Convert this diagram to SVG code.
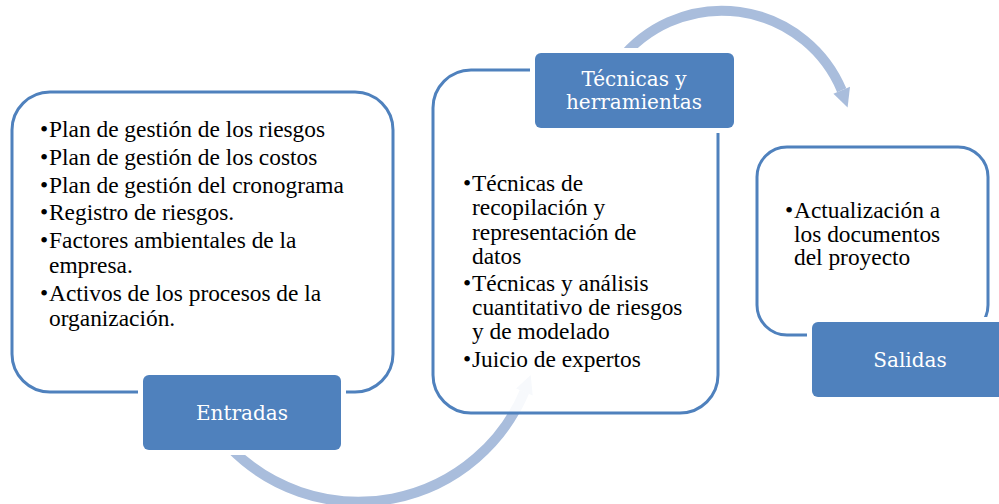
<svg xmlns="http://www.w3.org/2000/svg" width="999" height="504" viewBox="0 0 999 504">
<rect width="999" height="504" fill="#fff"/>
<g id="connectors" fill="#A9BDDC">
<path fill="none" stroke="#A9BDDC" stroke-width="10" d="M230.6,448.3 A180,180 0 0 0 524.4,391.9"/>
<polygon points="530.7,375.1 532.7,395.5 516.1,388.4"/>
<path fill="none" stroke="#A9BDDC" stroke-width="10" d="M620,60 A130,130 0 0 1 841.7,90.2"/>
<polygon points="847.6,107.4 850.0,86.7 833.4,93.7"/>
</g>
<g id="entradas">
<rect x="12" y="92" width="381" height="300" rx="38" fill="#fff" fill-opacity="0.9" stroke="#4F81BD" stroke-width="3"/>
<rect x="138" y="370" width="208" height="85" rx="10" fill="#fff"/>
<rect x="143" y="375" width="198" height="75" rx="6" fill="#4F81BD"/>
<text x="242" y="420" font-family="DejaVu Serif" font-size="20" fill="#fff" text-anchor="middle">Entradas</text>
<text font-family="Liberation Serif" font-size="23.4" x="40" y="137">•</text><text font-family="Liberation Serif" font-size="23.4" x="49" y="137">Plan de gestión de los riesgos</text>
<text font-family="Liberation Serif" font-size="23.4" x="40" y="165">•</text><text font-family="Liberation Serif" font-size="23.4" x="49" y="165">Plan de gestión de los costos</text>
<text font-family="Liberation Serif" font-size="23.4" x="40" y="193">•</text><text font-family="Liberation Serif" font-size="23.4" x="49" y="193">Plan de gestión del cronograma</text>
<text font-family="Liberation Serif" font-size="23.4" x="40" y="220">•</text><text font-family="Liberation Serif" font-size="23.4" x="49" y="220">Registro de riesgos.</text>
<text font-family="Liberation Serif" font-size="23.4" x="40" y="248">•</text><text font-family="Liberation Serif" font-size="23.4" x="49" y="248">Factores ambientales de la</text>
<text font-family="Liberation Serif" font-size="23.4" x="49" y="273">empresa.</text>
<text font-family="Liberation Serif" font-size="23.4" x="40" y="301">•</text><text font-family="Liberation Serif" font-size="23.4" x="49" y="301">Activos de los procesos de la</text>
<text font-family="Liberation Serif" font-size="23.4" x="49" y="326">organización.</text>
</g>
<g id="tecnicas">
<rect x="433" y="70" width="285" height="343" rx="38" fill="#fff" fill-opacity="0.9" stroke="#4F81BD" stroke-width="3"/>
<rect x="530" y="48" width="209" height="85" rx="10" fill="#fff"/>
<rect x="535" y="53" width="199" height="75" rx="6" fill="#4F81BD"/>
<text x="634" y="86" font-family="DejaVu Serif" font-size="20" fill="#fff" text-anchor="middle">Técnicas y</text>
<text x="634" y="109" font-family="DejaVu Serif" font-size="20" fill="#fff" text-anchor="middle">herramientas</text>
<text font-family="Liberation Serif" font-size="23.4" x="463" y="191">•</text><text font-family="Liberation Serif" font-size="23.4" x="472" y="191">Técnicas de</text>
<text font-family="Liberation Serif" font-size="23.4" x="472" y="215">recopilación y</text>
<text font-family="Liberation Serif" font-size="23.4" x="472" y="240">representación de</text>
<text font-family="Liberation Serif" font-size="23.4" x="472" y="264">datos</text>
<text font-family="Liberation Serif" font-size="23.4" x="463" y="291">•</text><text font-family="Liberation Serif" font-size="23.4" x="472" y="291">Técnicas y análisis</text>
<text font-family="Liberation Serif" font-size="23.4" x="472" y="315">cuantitativo de riesgos</text>
<text font-family="Liberation Serif" font-size="23.4" x="472" y="339">y de modelado</text>
<text font-family="Liberation Serif" font-size="23.4" x="463" y="367">•</text><text font-family="Liberation Serif" font-size="23.4" x="472" y="367">Juicio de expertos</text>
</g>
<g id="salidas">
<rect x="757" y="147" width="231" height="188" rx="30" fill="#fff" fill-opacity="0.9" stroke="#4F81BD" stroke-width="3"/>
<rect x="807" y="317" width="208" height="85" rx="10" fill="#fff"/>
<rect x="812" y="322" width="198" height="75" rx="6" fill="#4F81BD"/>
<text x="910" y="367" font-family="DejaVu Serif" font-size="20" fill="#fff" text-anchor="middle">Salidas</text>
<text font-family="Liberation Serif" font-size="23.4" x="785" y="218">•</text><text font-family="Liberation Serif" font-size="23.4" x="794" y="218">Actualización a</text>
<text font-family="Liberation Serif" font-size="23.4" x="794" y="242">los documentos</text>
<text font-family="Liberation Serif" font-size="23.4" x="794" y="265">del proyecto</text>
</g>
</svg>
